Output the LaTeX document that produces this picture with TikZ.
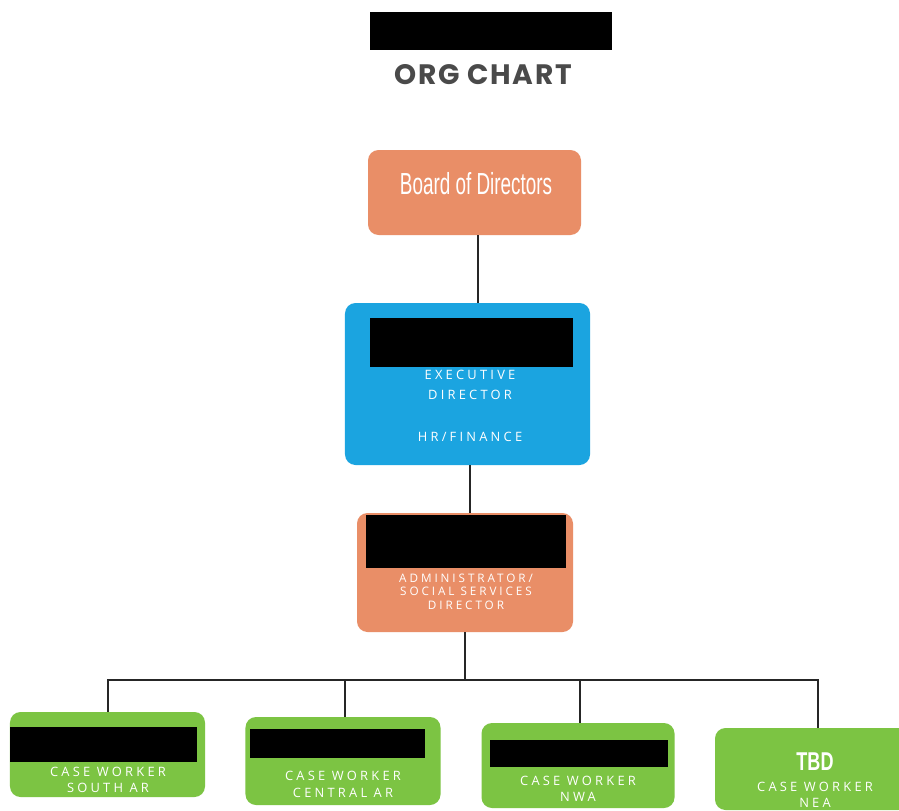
\documentclass[tikz,border=0pt]{standalone}
\usepackage{fontspec}
\usepackage{graphicx}
\setmainfont{Open Sans}
\newfontfamily\titlefont[LetterSpace=6]{Poppins}
\newfontfamily\spacedfont[LetterSpace=25]{Open Sans}
\newfontfamily\condfont{Liberation Sans}
\definecolor{orgorange}{HTML}{E98E67}
\definecolor{orgblue}{HTML}{1BA4E0}
\definecolor{orggreen}{HTML}{7CC443}
\definecolor{titlegrey}{HTML}{4A4A4A}
\tikzset{
  box/.style={rounded corners=9pt, inner sep=0pt},
  obox/.style={box, fill=orgorange},
  bbox/.style={box, fill=orgblue},
  gbox/.style={box, fill=orggreen},
  lbl/.style={text=white, font=\spacedfont\fontsize{11}{13}\selectfont, align=center, inner sep=0pt},
  conn/.style={draw=black!85, line width=1.4pt},
  redact/.style={fill=black}
}
\begin{document}
\begin{tikzpicture}[x=0.03cm,y=-0.03cm]
\useasboundingbox (0,0) rectangle (899,810);
\clip (0,0) rectangle (899,810);
\fill[white] (0,0) rectangle (899,810);
% title
\fill[redact] (370,12) rectangle (612,50);
\node[text=titlegrey, font=\titlefont\bfseries\fontsize{24}{28}\selectfont, inner sep=0pt] (title) at (483,75) {ORG CHART};
% boxes
\node[obox, minimum width=6.39cm, minimum height=2.55cm] (board) at (474.5,192.5) {};
\node[text=white, font=\condfont\fontsize{26}{30}\selectfont, inner sep=0pt] (boardtxt) at (476,184) {\scalebox{0.62}[1]{Board of Directors}};
\node[bbox, minimum width=7.35cm, minimum height=4.86cm] (exec) at (467.5,384) {};
\fill[redact] (370,318) rectangle (573,367);
\node[lbl] (exec1) at (470,375) {EXECUTIVE};
\node[lbl] (exec2) at (470,395) {DIRECTOR};
\node[lbl] (exec3) at (470,437) {HR/FINANCE};
\node[obox, minimum width=6.48cm, minimum height=3.57cm] (admin) at (465,572.5) {};
\fill[redact] (366,515) rectangle (566,568);
\node[lbl, font=\spacedfont\fontsize{10}{12}\selectfont] (adm1) at (466,578) {ADMINISTRATOR/};
\node[lbl, font=\spacedfont\fontsize{10}{12}\selectfont] (adm2) at (466,591) {SOCIAL SERVICES};
\node[lbl, font=\spacedfont\fontsize{10}{12}\selectfont] (adm3) at (466,605) {DIRECTOR};
\node[gbox, minimum width=5.85cm, minimum height=2.55cm] (g1) at (107.5,754.5) {};
\fill[redact] (10,727) rectangle (197,762);
\node[lbl] (g1a) at (108,772) {CASE WORKER};
\node[lbl] (g1b) at (108,788) {SOUTH AR};
\node[gbox, minimum width=5.85cm, minimum height=2.64cm] (g2) at (343,761) {};
\fill[redact] (250,729) rectangle (425,758);
\node[lbl] (g2a) at (343,776) {CASE WORKER};
\node[lbl] (g2b) at (343,793) {CENTRAL AR};
\node[gbox, minimum width=5.79cm, minimum height=2.55cm] (g3) at (578,765.5) {};
\fill[redact] (490,740) rectangle (668,767);
\node[lbl] (g3a) at (578,781) {CASE WORKER};
\node[lbl] (g3b) at (578,797) {NWA};
\node[gbox, minimum width=5.82cm, minimum height=2.46cm] (g4) at (812,769) {};
\node[text=white, font=\condfont\bfseries\fontsize{22}{26}\selectfont, inner sep=0pt] (tbd) at (815,762) {\scalebox{0.7}[1]{TBD}};
\node[lbl] (g4a) at (815,787) {CASE WORKER};
\node[lbl] (g4b) at (815,803) {NEA};
% connectors
\coordinate (bus) at (465,680);
\coordinate (d1) at (108,0);
\coordinate (d2) at (345,0);
\coordinate (d3) at (580,0);
\coordinate (d4) at (818,0);
\draw[conn] ([xshift=0.1cm]board.south) -- ([xshift=0.1cm]board.south |- exec.north);
\draw[conn] ([xshift=0.07cm]exec.south) -- ([xshift=0.07cm]exec.south |- admin.north);
\draw[conn] (admin.south) -- (bus);
\draw[conn] (d1 |- g1.north) -- (d1 |- bus) -- (d4 |- bus) -- (d4 |- g4.north);
\draw[conn] (d2 |- g2.north) -- (d2 |- bus);
\draw[conn] (d3 |- g3.north) -- (d3 |- bus);
\end{tikzpicture}
\end{document}
